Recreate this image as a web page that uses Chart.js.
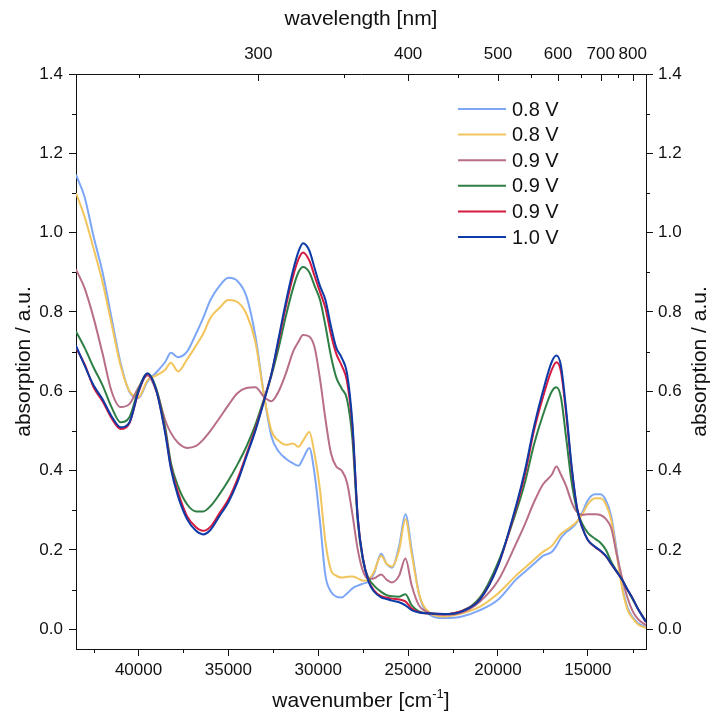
<!DOCTYPE html>
<html>
<head>
<meta charset="utf-8">
<title>absorption spectra</title>
<script src="https://cdn.jsdelivr.net/npm/chart.js@4.4.1/dist/chart.umd.min.js"></script>
<style>
  html, body { margin: 0; padding: 0; background: #fff; }
  #wrap { width: 713px; height: 718px; }
</style>
</head>
<body>
<div id="wrap"><canvas id="spectra" width="713" height="718"></canvas></div>
<script>
// wavenumber grid (cm-1), shared by every spectrum
const wavenumbers = [
  43478, 43000, 42500, 42000, 41500, 41000, 40500, 40000, 39500, 39000,
  38500, 38200, 37800, 37300, 36800, 36400, 36000, 35500, 35000, 34500,
  34000, 33500, 33000, 32600, 32200, 31800, 31400, 31100, 30850, 30500,
  30200, 29900, 29600, 29300, 29000, 28700, 28400, 28100, 27800, 27500,
  27200, 26900, 26500, 26200, 25900, 25500, 25150, 24800, 24400, 24000,
  23000, 22000, 21000, 20000, 19000, 18500, 18000, 17500, 17000, 16750,
  16500, 16200, 15900, 15600, 15300, 15000, 14600, 14300, 14000, 13700,
  13400, 13100, 12800, 12500, 12200, 11765
];

const abs08a = [
  1.146, 1.09, 0.99, 0.90, 0.785, 0.672, 0.598, 0.583, 0.625, 0.648,
  0.675, 0.697, 0.686, 0.70, 0.745, 0.785, 0.83, 0.865, 0.886, 0.878,
  0.84, 0.74, 0.585, 0.485, 0.448, 0.43, 0.418, 0.412, 0.43, 0.457,
  0.39, 0.27, 0.135, 0.095, 0.082, 0.08, 0.09, 0.103, 0.11, 0.115,
  0.12, 0.14, 0.19, 0.165, 0.155, 0.21, 0.29, 0.2, 0.09, 0.045,
  0.028, 0.032, 0.048, 0.074, 0.125, 0.145, 0.165, 0.185, 0.195, 0.21,
  0.23, 0.245, 0.255, 0.27, 0.295, 0.325, 0.34, 0.34, 0.325, 0.285,
  0.2, 0.11, 0.055, 0.03, 0.015, 0.005
];

const abs08b = [
  1.10, 1.04, 0.96, 0.875, 0.77, 0.665, 0.60, 0.585, 0.628, 0.64,
  0.655, 0.672, 0.65, 0.68, 0.715, 0.745, 0.785, 0.81, 0.83, 0.825,
  0.795, 0.725, 0.585, 0.50, 0.475, 0.465, 0.468, 0.46, 0.475, 0.497,
  0.44, 0.35, 0.22, 0.15, 0.135, 0.13, 0.132, 0.133, 0.128, 0.122,
  0.125, 0.145, 0.185, 0.165, 0.158, 0.2, 0.277, 0.19, 0.09, 0.05,
  0.032, 0.04, 0.057, 0.09, 0.135, 0.155, 0.175, 0.195, 0.21, 0.225,
  0.24, 0.25, 0.26, 0.272, 0.29, 0.315, 0.33, 0.33, 0.315, 0.275,
  0.19, 0.105, 0.05, 0.027, 0.012, 0.003
];

const abs09a = [
  0.907, 0.86, 0.785, 0.695, 0.60, 0.56, 0.568, 0.61, 0.64, 0.60,
  0.525, 0.495, 0.47, 0.457, 0.462, 0.478, 0.50, 0.532, 0.565, 0.595,
  0.608, 0.61, 0.585, 0.575, 0.60, 0.645, 0.70, 0.725, 0.742, 0.738,
  0.71, 0.63, 0.53, 0.445, 0.41, 0.40, 0.37, 0.29, 0.2, 0.145,
  0.127, 0.128, 0.138, 0.125, 0.118, 0.135, 0.178, 0.11, 0.06, 0.045,
  0.036, 0.042, 0.07, 0.122, 0.215, 0.265, 0.32, 0.365, 0.39, 0.41,
  0.39, 0.36, 0.32, 0.295, 0.288, 0.29, 0.29, 0.288, 0.278, 0.255,
  0.19, 0.13, 0.08, 0.045, 0.025, 0.01
];

const abs09b = [
  0.751, 0.71, 0.66, 0.615, 0.56, 0.522, 0.535, 0.605, 0.645, 0.605,
  0.505, 0.42, 0.36, 0.315, 0.297, 0.297, 0.31, 0.34, 0.375, 0.415,
  0.46, 0.515, 0.583, 0.64, 0.71, 0.79, 0.86, 0.90, 0.913, 0.90,
  0.865, 0.83, 0.765, 0.69, 0.635, 0.607, 0.58, 0.48, 0.27, 0.17,
  0.128, 0.11, 0.094, 0.086, 0.083, 0.082, 0.088, 0.06, 0.045, 0.04,
  0.038, 0.046, 0.08, 0.168, 0.295, 0.37, 0.465, 0.54, 0.60, 0.61,
  0.585, 0.48, 0.37, 0.30, 0.265, 0.243, 0.228, 0.218, 0.20, 0.17,
  0.147, 0.125, 0.10, 0.075, 0.05, 0.02
];

const abs09c = [
  0.71, 0.668, 0.61, 0.575, 0.532, 0.505, 0.52, 0.598, 0.643, 0.60,
  0.495, 0.41, 0.345, 0.285, 0.257, 0.248, 0.258, 0.292, 0.327, 0.378,
  0.44, 0.505, 0.58, 0.645, 0.728, 0.815, 0.89, 0.933, 0.95, 0.93,
  0.89, 0.85, 0.81, 0.745, 0.695, 0.665, 0.625, 0.51, 0.28, 0.175,
  0.122, 0.098, 0.083, 0.08, 0.077, 0.075, 0.07, 0.052, 0.043, 0.04,
  0.038, 0.046, 0.076, 0.16, 0.305, 0.39, 0.50, 0.585, 0.655, 0.673,
  0.65, 0.54, 0.405, 0.305, 0.255, 0.225, 0.207, 0.197, 0.184, 0.164,
  0.145, 0.125, 0.10, 0.077, 0.05, 0.018
];

const abs10 = [
  0.715, 0.665, 0.615, 0.58, 0.537, 0.509, 0.522, 0.60, 0.645, 0.60,
  0.49, 0.405, 0.335, 0.278, 0.248, 0.239, 0.25, 0.285, 0.32, 0.37,
  0.435, 0.50, 0.578, 0.645, 0.735, 0.825, 0.905, 0.952, 0.973, 0.955,
  0.91, 0.865, 0.83, 0.765, 0.71, 0.685, 0.645, 0.52, 0.28, 0.175,
  0.12, 0.095, 0.08, 0.076, 0.072, 0.068, 0.06, 0.048, 0.042, 0.04,
  0.038, 0.045, 0.075, 0.16, 0.31, 0.40, 0.51, 0.60, 0.675, 0.69,
  0.665, 0.55, 0.41, 0.305, 0.255, 0.225, 0.208, 0.198, 0.185, 0.165,
  0.145, 0.125, 0.10, 0.077, 0.05, 0.018
];

const seriesLabels = ['0.8 V', '0.8 V', '0.9 V', '0.9 V', '0.9 V', '1.0 V'];
const seriesColors = ['#7DA7F6', '#F2C55C', '#B86E86', '#2E7F45', '#D51A3F', '#0C3AA6'];
const seriesValues = [abs08a, abs08b, abs09a, abs09b, abs09c, abs10];

const xTicks = [40000, 35000, 30000, 25000, 20000, 15000];
const xMinorTicks = [42500, 37500, 32500, 27500, 22500, 17500, 12500];
const nmTicks = [300, 400, 500, 600, 700, 800];
const nmMinorTicks = [250, 350, 450, 550, 650, 750];
const yTicks = [0, 0.2, 0.4, 0.6, 0.8, 1.0, 1.2, 1.4];
const yMinorTicks = [0.1, 0.3, 0.5, 0.7, 0.9, 1.1, 1.3];

const FONT = "'Liberation Sans', Arial, sans-serif";
const INK = '#111';

// minor ticks, top wavelength ticks, titles and legend
const framePlugin = {
    id: 'frame',
    afterDraw(chart) {
        const ctx = chart.ctx;
        const area = chart.chartArea;
        const x = chart.scales.x;
        const y = chart.scales.y;

        ctx.save();
        ctx.strokeStyle = INK;
        ctx.lineWidth = 1;
        ctx.beginPath();
        xMinorTicks.forEach(w => {
            const px = Math.round(x.getPixelForValue(w)) + 0.5;
            ctx.moveTo(px, area.bottom);
            ctx.lineTo(px, area.bottom + 4);
        });
        yMinorTicks.forEach(v => {
            const py = Math.round(y.getPixelForValue(v)) + 0.5;
            ctx.moveTo(area.left, py);
            ctx.lineTo(area.left - 4, py);
            ctx.moveTo(area.right, py);
            ctx.lineTo(area.right + 4, py);
        });
        nmTicks.forEach(nm => {
            const px = Math.round(x.getPixelForValue(1e7 / nm)) + 0.5;
            ctx.moveTo(px, area.top);
            ctx.lineTo(px, area.top + 7);
        });
        nmMinorTicks.forEach(nm => {
            const px = Math.round(x.getPixelForValue(1e7 / nm)) + 0.5;
            ctx.moveTo(px, area.top);
            ctx.lineTo(px, area.top + 4);
        });
        ctx.stroke();

        // axis titles
        const cx = (area.left + area.right) / 2;
        const cy = (area.top + area.bottom) / 2;
        ctx.fillStyle = INK;
        ctx.textBaseline = 'middle';
        ctx.textAlign = 'center';
        ctx.font = `21px ${FONT}`;
        ctx.fillText('wavelength [nm]', cx, 19);

        // bottom title with superscript
        const partA = 'wavenumber [cm';
        const partB = '-1';
        const partC = ']';
        const bigFont = `21px ${FONT}`;
        const supFont = `13px ${FONT}`;
        ctx.font = bigFont;
        const wA = ctx.measureText(partA).width;
        const wC = ctx.measureText(partC).width;
        ctx.font = supFont;
        const wB = ctx.measureText(partB).width;
        let sx = cx - (wA + wB + wC) / 2;
        ctx.textAlign = 'left';
        ctx.font = bigFont;
        ctx.fillText(partA, sx, 701);
        ctx.font = supFont;
        ctx.fillText(partB, sx + wA, 694);
        ctx.font = bigFont;
        ctx.fillText(partC, sx + wA + wB, 701);

        ctx.textAlign = 'center';
        ctx.save();
        ctx.translate(24, cy);
        ctx.rotate(-Math.PI / 2);
        ctx.fillText('absorption / a.u.', 0, 0);
        ctx.restore();
        ctx.save();
        ctx.translate(700, cy);
        ctx.rotate(-Math.PI / 2);
        ctx.fillText('absorption / a.u.', 0, 0);
        ctx.restore();

        // legend
        ctx.font = `20px ${FONT}`;
        ctx.textAlign = 'left';
        chart.data.datasets.forEach((ds, i) => {
            const ly = 109 + i * 25.6;
            ctx.strokeStyle = ds.borderColor;
            ctx.lineWidth = 2;
            ctx.beginPath();
            ctx.moveTo(458, ly);
            ctx.lineTo(506, ly);
            ctx.stroke();
            ctx.fillStyle = INK;
            ctx.fillText(ds.label, 512, ly + 1);
        });
        ctx.restore();
    }
};

const ctx = document.getElementById('spectra').getContext('2d');

const tickFont = { family: FONT, size: 17 };

const chart = new Chart(ctx, {
    type: 'line',
    data: {
        datasets: seriesValues.map((vals, i) => ({
            label: seriesLabels[i],
            data: wavenumbers.map((w, j) => ({ x: w, y: vals[j] })),
            borderColor: seriesColors[i],
            backgroundColor: seriesColors[i],
            borderWidth: 2,
            pointRadius: 0,
            fill: false,
            cubicInterpolationMode: 'monotone',
            order: seriesValues.length - i
        }))
    },
    options: {
        responsive: false,
        animation: false,
        devicePixelRatio: 1,
        layout: { padding: 0 },
        plugins: {
            legend: { display: false },
            tooltip: { enabled: false },
            title: { display: false }
        },
        scales: {
            x: {
                type: 'linear',
                position: 'bottom',
                reverse: true,
                min: 11765,
                max: 43478,
                afterBuildTicks: (scale) => { scale.ticks = xTicks.map(v => ({ value: v })); },
                afterFit: (scale) => { scale.height = 69; },
                ticks: {
                    callback: (v) => String(v),
                    font: tickFont,
                    color: INK,
                    padding: 4,
                    maxRotation: 0,
                    autoSkip: false
                },
                grid: { drawOnChartArea: false, tickLength: 7, tickColor: INK, tickWidth: 1 },
                border: { display: true, color: INK, width: 1 }
            },
            xTop: {
                type: 'linear',
                position: 'top',
                reverse: true,
                min: 11765,
                max: 43478,
                afterBuildTicks: (scale) => { scale.ticks = nmTicks.map(nm => ({ value: 1e7 / nm })); },
                afterFit: (scale) => { scale.height = 74; },
                ticks: {
                    callback: (v) => String(Math.round(1e7 / v)),
                    font: tickFont,
                    color: INK,
                    padding: 9,
                    maxRotation: 0,
                    autoSkip: false
                },
                grid: { drawOnChartArea: false, drawTicks: false },
                border: { display: true, color: INK, width: 1 }
            },
            y: {
                type: 'linear',
                position: 'left',
                min: -0.05,
                max: 1.4,
                afterBuildTicks: (scale) => { scale.ticks = yTicks.map(v => ({ value: v })); },
                afterFit: (scale) => { scale.width = 76; },
                ticks: {
                    callback: (v) => v.toFixed(1),
                    font: tickFont,
                    color: INK,
                    padding: 6
                },
                grid: { drawOnChartArea: false, tickLength: 7, tickColor: INK, tickWidth: 1 },
                border: { display: true, color: INK, width: 1 }
            },
            y2: {
                type: 'linear',
                position: 'right',
                min: -0.05,
                max: 1.4,
                afterBuildTicks: (scale) => { scale.ticks = yTicks.map(v => ({ value: v })); },
                afterFit: (scale) => { scale.width = 67; },
                ticks: {
                    callback: (v) => v.toFixed(1),
                    font: tickFont,
                    color: INK,
                    padding: 5
                },
                grid: { drawOnChartArea: false, tickLength: 7, tickColor: INK, tickWidth: 1 },
                border: { display: true, color: INK, width: 1 }
            }
        }
    },
    plugins: [framePlugin]
});
</script>
</body>
</html>
